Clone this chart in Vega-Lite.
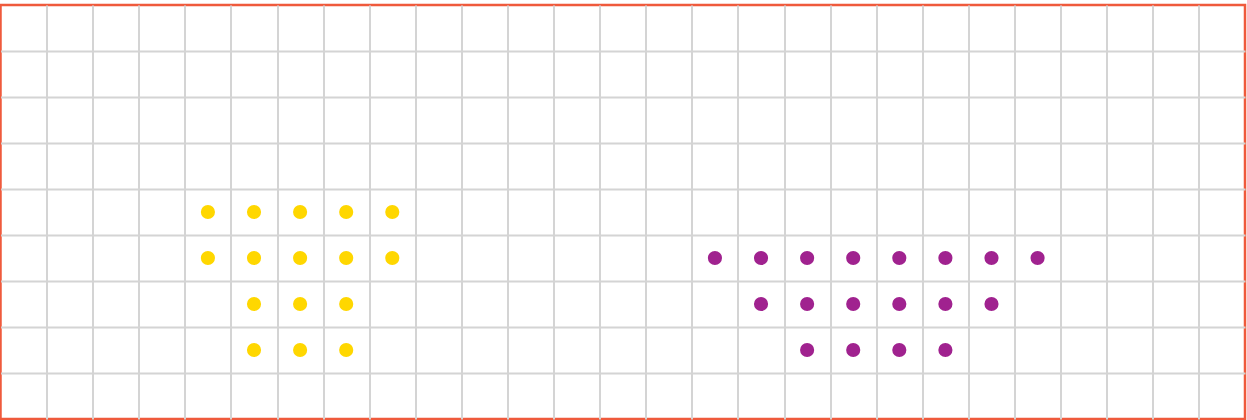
{
  "$schema": "https://vega.github.io/schema/vega-lite/v6.json",
  "width": 1247,
  "height": 420,
  "autosize": {"type": "fit", "contains": "padding"},
  "padding": {"left": 0.5, "right": 2, "top": 5, "bottom": 1},
  "background": "white",
  "config": {
    "view": {"stroke": "#EF5A3C", "strokeWidth": 2.5, "strokeOpacity": 1},
    "axis": {"domain": false, "ticks": false, "labels": false, "title": null, "grid": true, "gridColor": "#d4d4d4", "gridWidth": 2, "gridOpacity": 1}
  },
  "data": {
    "values": [
      {"col": 4.5, "row": 4.5, "group": "A"}, {"col": 5.5, "row": 4.5, "group": "A"}, {"col": 6.5, "row": 4.5, "group": "A"}, {"col": 7.5, "row": 4.5, "group": "A"}, {"col": 8.5, "row": 4.5, "group": "A"},
      {"col": 4.5, "row": 5.5, "group": "A"}, {"col": 5.5, "row": 5.5, "group": "A"}, {"col": 6.5, "row": 5.5, "group": "A"}, {"col": 7.5, "row": 5.5, "group": "A"}, {"col": 8.5, "row": 5.5, "group": "A"},
      {"col": 5.5, "row": 6.5, "group": "A"}, {"col": 6.5, "row": 6.5, "group": "A"}, {"col": 7.5, "row": 6.5, "group": "A"},
      {"col": 5.5, "row": 7.5, "group": "A"}, {"col": 6.5, "row": 7.5, "group": "A"}, {"col": 7.5, "row": 7.5, "group": "A"},
      {"col": 15.5, "row": 5.5, "group": "B"}, {"col": 16.5, "row": 5.5, "group": "B"}, {"col": 17.5, "row": 5.5, "group": "B"}, {"col": 18.5, "row": 5.5, "group": "B"}, {"col": 19.5, "row": 5.5, "group": "B"}, {"col": 20.5, "row": 5.5, "group": "B"}, {"col": 21.5, "row": 5.5, "group": "B"}, {"col": 22.5, "row": 5.5, "group": "B"},
      {"col": 16.5, "row": 6.5, "group": "B"}, {"col": 17.5, "row": 6.5, "group": "B"}, {"col": 18.5, "row": 6.5, "group": "B"}, {"col": 19.5, "row": 6.5, "group": "B"}, {"col": 20.5, "row": 6.5, "group": "B"}, {"col": 21.5, "row": 6.5, "group": "B"},
      {"col": 17.5, "row": 7.5, "group": "B"}, {"col": 18.5, "row": 7.5, "group": "B"}, {"col": 19.5, "row": 7.5, "group": "B"}, {"col": 20.5, "row": 7.5, "group": "B"}
    ]
  },
  "mark": {"type": "circle", "size": 200, "opacity": 1},
  "encoding": {
    "x": {"field": "col", "type": "quantitative", "scale": {"domain": [0, 27], "nice": false, "zero": false}, "axis": {"values": [1,2,3,4,5,6,7,8,9,10,11,12,13,14,15,16,17,18,19,20,21,22,23,24,25,26]}},
    "y": {"field": "row", "type": "quantitative", "scale": {"domain": [0, 9], "nice": false, "zero": false, "reverse": true}, "axis": {"values": [1,2,3,4,5,6,7,8]}},
    "color": {"field": "group", "type": "nominal", "scale": {"domain": ["A", "B"], "range": ["#FFD700", "#A0228F"]}, "legend": null}
  }
}
